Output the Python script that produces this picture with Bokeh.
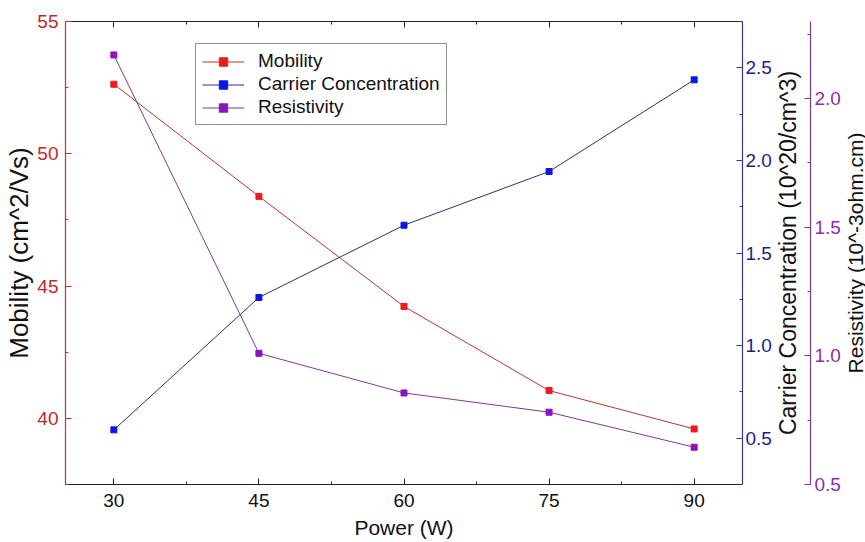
from bokeh.plotting import figure
from bokeh.layouts import row
from bokeh.models import (Range1d, LinearAxis, SingleIntervalTicker, FixedTicker,
                          NumeralTickFormatter, CustomJSTickFormatter, Legend, LegendItem)
from bokeh.embed import file_html
from bokeh.resources import INLINE

# ---- data ----
power = [30, 45, 60, 75, 90]
mobility = [52.63, 48.39, 44.23, 41.05, 39.60]
carrier = [0.545, 1.26, 1.65, 1.94, 2.435]
resistivity = [2.17, 1.01, 0.856, 0.781, 0.645]
series_labels = ["Mobility", "Carrier Concentration", "Resistivity"]
x_label = "Power (W)"
y_labels = ["Mobility (cm^2/Vs)", "Carrier Concentration (10^20/cm^3)", "Resistivity (10^-3ohm.cm)"]

FONT = "Liberation Sans"
TICK_FS = "19px"

RED_LINE, RED_MK, RED_AX, RED_TXT = "#B8352F", "#EE1B1B", "#D02A2A", "#C0282D"
BLUE_LINE, BLUE_MK, BLUE_AX, BLUE_TXT = "#2E2E7C", "#0A16E8", "#3A3A8C", "#1E1E8C"
PUR_LINE, PUR_MK, PUR_AX, PUR_TXT = "#7E3A94", "#8B14BC", "#7D3C8C", "#8B2FA8"

H = 542
TOP, BOTTOM = 21, 58
X_RANGE = (25, 95)
Y_RANGES = {"mob": (37.5, 55), "blue": (0.25, 2.75), "purple": (0.5, 2.3)}


def base_fig(width, left, right, y_range):
    f = figure(width=width, height=H, output_backend="svg", toolbar_location=None,
               x_range=Range1d(*X_RANGE), y_range=Range1d(*y_range),
               x_axis_location=None, y_axis_location=None,
               min_border_left=left, min_border_right=right,
               min_border_top=TOP, min_border_bottom=BOTTOM)
    f.outline_line_color = None
    f.background_fill_color = "white"
    f.border_fill_color = "white"
    for g in f.grid:
        g.visible = False
    return f


def style_axis(ax, line_color, text_color, title_fs="21px"):
    ax.axis_line_color = line_color
    ax.axis_line_width = 1.2
    ax.major_tick_line_color = line_color
    ax.minor_tick_line_color = line_color
    ax.major_tick_in = 6
    ax.major_tick_out = 0
    ax.minor_tick_in = 3
    ax.minor_tick_out = 0
    ax.major_label_text_font = FONT
    ax.major_label_text_font_size = TICK_FS
    ax.major_label_text_color = text_color
    ax.axis_label_text_font = FONT
    ax.axis_label_text_font_size = title_fs
    ax.axis_label_text_font_style = "normal"
    ax.axis_label_text_color = "#111111"


def title_only_axis(text, fs, standoff):
    ax = LinearAxis(ticker=FixedTicker(ticks=[]), axis_label=text)
    ax.axis_line_color = None
    ax.major_tick_line_color = None
    ax.minor_tick_line_color = None
    ax.major_tick_in = 0
    ax.major_tick_out = 0
    ax.major_label_standoff = 0
    ax.axis_label_text_font = FONT
    ax.axis_label_text_font_size = fs
    ax.axis_label_text_font_style = "normal"
    ax.axis_label_text_color = "#111111"
    ax.axis_label_standoff = standoff
    return ax


# ================= main panel =================
p = base_fig(774, 65, 32, Y_RANGES["mob"])
p.extra_y_ranges = {"blue": Range1d(*Y_RANGES["blue"]), "purple": Range1d(*Y_RANGES["purple"])}

xa = LinearAxis(ticker=SingleIntervalTicker(interval=15, num_minor_ticks=2), axis_label=x_label)
style_axis(xa, "#222222", "#111111", "21px")
xa.major_label_standoff = 9
xa.axis_label_standoff = 6
p.add_layout(xa, "below")

xt = LinearAxis(ticker=SingleIntervalTicker(interval=15, num_minor_ticks=2),
                formatter=CustomJSTickFormatter(code="return ''"))
style_axis(xt, "#222222", "#111111")
xt.major_label_text_font_size = "1px"
xt.major_label_standoff = 0
p.add_layout(xt, "above")

ya = LinearAxis(ticker=SingleIntervalTicker(interval=5, num_minor_ticks=2), axis_label=y_labels[0])
style_axis(ya, RED_AX, RED_TXT, "26px")
ya.major_label_standoff = 7
ya.axis_label_standoff = 0
p.add_layout(ya, "left")

yb = LinearAxis(y_range_name="blue", ticker=SingleIntervalTicker(interval=0.5, num_minor_ticks=2),
                formatter=NumeralTickFormatter(format="0.0"))
style_axis(yb, BLUE_AX, BLUE_TXT)
yb.major_label_standoff = 3
p.add_layout(yb, "right")

l1 = p.line(power, mobility, line_color=RED_LINE, line_width=1)
s1 = p.scatter(power, mobility, marker="square", size=6, fill_color=RED_MK, line_color=RED_MK)
l2 = p.line(power, carrier, line_color=BLUE_LINE, line_width=1, y_range_name="blue")
s2 = p.scatter(power, carrier, marker="square", size=6, fill_color=BLUE_MK, line_color=BLUE_MK,
               y_range_name="blue")
l3 = p.line(power, resistivity, line_color=PUR_LINE, line_width=1, y_range_name="purple")
s3 = p.scatter(power, resistivity, marker="square", size=6, fill_color=PUR_MK, line_color=PUR_MK,
               y_range_name="purple")

legend = Legend(items=[LegendItem(label=series_labels[0], renderers=[l1, s1]),
                       LegendItem(label=series_labels[1], renderers=[l2, s2]),
                       LegendItem(label=series_labels[2], renderers=[l3, s3])],
                location=(130, 359))
legend.label_text_font = FONT
legend.label_text_font_size = "19px"
legend.label_text_color = "#111111"
legend.border_line_color = "#222222"
legend.border_line_width = 1
legend.background_fill_color = "white"
legend.background_fill_alpha = 1
legend.padding = 6
legend.spacing = 1
legend.margin = 0
legend.glyph_width = 42
legend.glyph_height = 21
legend.label_standoff = 14
legend.label_height = 21
p.add_layout(legend)

# ================= carrier title + resistivity axis =================
p2 = base_fig(66, 34, 31, Y_RANGES["purple"])
p2.add_layout(title_only_axis(y_labels[1], "23px", 7), "left")
yc = LinearAxis(ticker=SingleIntervalTicker(interval=0.5, num_minor_ticks=2),
                formatter=NumeralTickFormatter(format="0.0"))
style_axis(yc, PUR_AX, PUR_TXT)
yc.major_label_standoff = 4
p2.add_layout(yc, "right")

# ================= resistivity title =================
p3 = base_fig(25, 12, 0, Y_RANGES["purple"])
p3.add_layout(title_only_axis(y_labels[2], "21px", -12), "left")

layout = row(p, p2, p3)
open("out.html", "w").write(file_html(layout, INLINE))
